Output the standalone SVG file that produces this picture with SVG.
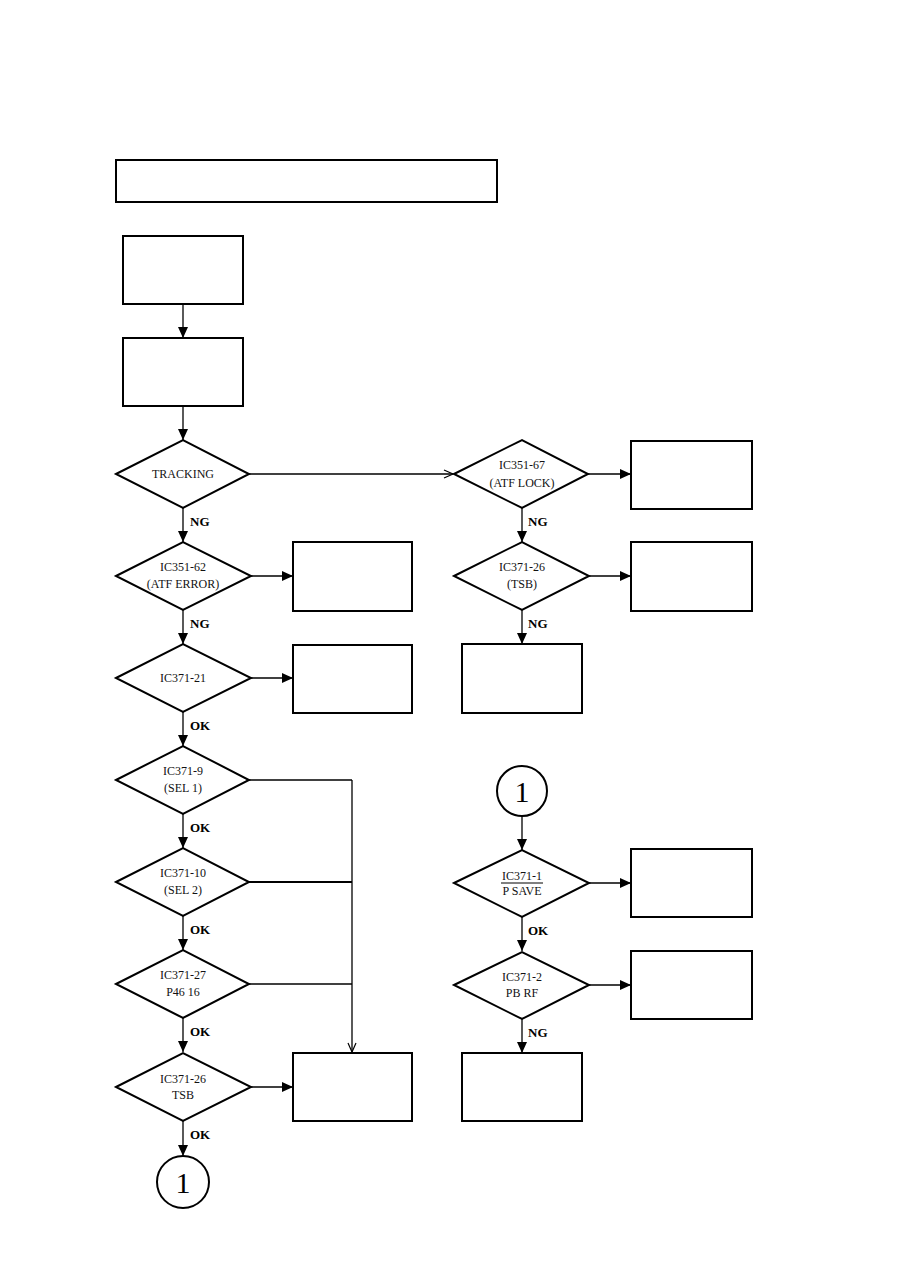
<svg xmlns="http://www.w3.org/2000/svg" width="897" height="1265" viewBox="0 0 897 1265">
<style>
.box{fill:#fff;stroke:#000;stroke-width:2}
.dia{fill:#fff;stroke:#000;stroke-width:2}
.con{fill:none;stroke:#000;stroke-width:1.3}
.t{font-family:"Liberation Serif",serif;font-size:12px;text-anchor:middle;fill:#111}
.lb{font-family:"Liberation Serif",serif;font-size:13px;font-weight:bold;fill:#000}
.c1{font-family:"Liberation Serif",serif;font-size:30px;text-anchor:middle;fill:#000}
</style>
<defs>
<marker id="ah" markerUnits="userSpaceOnUse" markerWidth="12" markerHeight="10" refX="11" refY="5" orient="auto">
<path d="M0,0 L11,5 L0,10 Z" fill="#000"/>
</marker>
<marker id="oa" markerUnits="userSpaceOnUse" markerWidth="12" markerHeight="10" refX="10" refY="5" orient="auto">
<path d="M1,1 L10,5 L1,9" fill="none" stroke="#000" stroke-width="1.2"/>
</marker>
</defs>
<rect width="897" height="1265" fill="#fff"/>
<g id="connectors">
<line class="con" x1="183" y1="304" x2="183" y2="338" marker-end="url(#ah)"/>
<line class="con" x1="183" y1="406" x2="183" y2="440" marker-end="url(#ah)"/>
<line class="con" x1="183" y1="508" x2="183" y2="542" marker-end="url(#ah)"/>
<line class="con" x1="183" y1="610" x2="183" y2="644" marker-end="url(#ah)"/>
<line class="con" x1="183" y1="712" x2="183" y2="746" marker-end="url(#ah)"/>
<line class="con" x1="183" y1="814" x2="183" y2="848" marker-end="url(#ah)"/>
<line class="con" x1="183" y1="916" x2="183" y2="950" marker-end="url(#ah)"/>
<line class="con" x1="183" y1="1018" x2="183" y2="1052" marker-end="url(#ah)"/>
<line class="con" x1="183" y1="1120" x2="183" y2="1156" marker-end="url(#ah)"/>
<line class="con" x1="249" y1="474" x2="453" y2="474" marker-end="url(#oa)"/>
<line class="con" x1="251" y1="576" x2="293" y2="576" marker-end="url(#ah)"/>
<line class="con" x1="251" y1="678" x2="293" y2="678" marker-end="url(#ah)"/>
<line class="con" x1="249" y1="780" x2="352" y2="780"/>
<line class="con" x1="249" y1="882" x2="352" y2="882" style="stroke-width:2"/>
<line class="con" x1="249" y1="984" x2="352" y2="984"/>
<line class="con" x1="352" y1="780" x2="352" y2="1052" marker-end="url(#oa)"/>
<line class="con" x1="251" y1="1087" x2="293" y2="1087" marker-end="url(#ah)"/>
<line class="con" x1="588" y1="474" x2="631" y2="474" marker-end="url(#ah)"/>
<line class="con" x1="522" y1="508" x2="522" y2="542" marker-end="url(#ah)"/>
<line class="con" x1="589" y1="576" x2="631" y2="576" marker-end="url(#ah)"/>
<line class="con" x1="522" y1="610" x2="522" y2="644" marker-end="url(#ah)"/>
<line class="con" x1="522" y1="816" x2="522" y2="850" marker-end="url(#ah)"/>
<line class="con" x1="589" y1="883" x2="631" y2="883" marker-end="url(#ah)"/>
<line class="con" x1="522" y1="917" x2="522" y2="951" marker-end="url(#ah)"/>
<line class="con" x1="589" y1="985" x2="631" y2="985" marker-end="url(#ah)"/>
<line class="con" x1="522" y1="1019" x2="522" y2="1053" marker-end="url(#ah)"/>
<text class="lb" x="190" y="526">NG</text>
<text class="lb" x="190" y="628">NG</text>
<text class="lb" x="190" y="730">OK</text>
<text class="lb" x="190" y="832">OK</text>
<text class="lb" x="190" y="934">OK</text>
<text class="lb" x="190" y="1036">OK</text>
<text class="lb" x="190" y="1139">OK</text>
<text class="lb" x="528" y="526">NG</text>
<text class="lb" x="528" y="628">NG</text>
<text class="lb" x="528" y="935">OK</text>
<text class="lb" x="528" y="1037">NG</text>
</g>
<g id="title"><rect class="box" x="116" y="160" width="381" height="42"/></g>
<g id="box1"><rect class="box" x="123" y="236" width="120" height="68"/></g>
<g id="box2"><rect class="box" x="123" y="338" width="120" height="68"/></g>
<g id="d-tracking"><polygon class="dia" points="116,474 183,440 249,474 183,508"/><text class="t" x="183" y="478">TRACKING</text></g>
<g id="d-ic351-62"><polygon class="dia" points="116,576 183,542 251,576 183,610"/><text class="t" x="183" y="571">IC351-62</text><text class="t" x="183" y="588">(ATF ERROR)</text></g>
<g id="b-atf-error"><rect class="box" x="293" y="542" width="119" height="69"/></g>
<g id="d-ic371-21"><polygon class="dia" points="116,678 183,644 251,678 183,712"/><text class="t" x="183" y="682">IC371-21</text></g>
<g id="b-ic371-21"><rect class="box" x="293" y="645" width="119" height="68"/></g>
<g id="d-ic371-9"><polygon class="dia" points="116,780 183,746 249,780 183,814"/><text class="t" x="183" y="775">IC371-9</text><text class="t" x="183" y="792">(SEL 1)</text></g>
<g id="d-ic371-10"><polygon class="dia" points="116,882 183,848 249,882 183,916"/><text class="t" x="183" y="877">IC371-10</text><text class="t" x="183" y="894">(SEL 2)</text></g>
<g id="d-ic371-27"><polygon class="dia" points="116,984 183,950 249,984 183,1018"/><text class="t" x="183" y="979">IC371-27</text><text class="t" x="183" y="996">P46 16</text></g>
<g id="d-ic371-26b"><polygon class="dia" points="116,1087 183,1053 251,1087 183,1121"/><text class="t" x="183" y="1083">IC371-26</text><text class="t" x="183" y="1099">TSB</text></g>
<g id="b-tsb-left"><rect class="box" x="293" y="1053" width="119" height="68"/></g>
<g id="circle-1-bottom"><circle cx="183" cy="1182" r="26" fill="#fff" stroke="#000" stroke-width="2"/><text class="c1" x="183" y="1193">1</text></g>
<g id="d-ic351-67"><polygon class="dia" points="454,474 522,440 588,474 522,508"/><text class="t" x="522" y="469">IC351-67</text><text class="t" x="522" y="487">(ATF LOCK)</text></g>
<g id="b-atf-lock"><rect class="box" x="631" y="441" width="121" height="68"/></g>
<g id="d-ic371-26"><polygon class="dia" points="454,576 522,542 589,576 522,610"/><text class="t" x="522" y="571">IC371-26</text><text class="t" x="522" y="588">(TSB)</text></g>
<g id="b-tsb-right"><rect class="box" x="631" y="542" width="121" height="69"/></g>
<g id="b-ng-right"><rect class="box" x="462" y="644" width="120" height="69"/></g>
<g id="circle-1-top"><circle cx="522" cy="791" r="25" fill="#fff" stroke="#000" stroke-width="2"/><text class="c1" x="522" y="802">1</text></g>
<g id="d-ic371-1"><polygon class="dia" points="454,883 522,850 589,883 522,917"/><text class="t" x="522" y="880">IC371-1</text><line x1="501" y1="883" x2="543" y2="883" stroke="#000" stroke-width="1"/><text class="t" x="522" y="895">P SAVE</text></g>
<g id="b-psave"><rect class="box" x="631" y="849" width="121" height="68"/></g>
<g id="d-ic371-2"><polygon class="dia" points="454,985 522,952 589,985 522,1019"/><text class="t" x="522" y="981">IC371-2</text><text class="t" x="522" y="997">PB RF</text></g>
<g id="b-pbrf"><rect class="box" x="631" y="951" width="121" height="68"/></g>
<g id="b-ng-bottom"><rect class="box" x="462" y="1053" width="120" height="68"/></g>
</svg>
